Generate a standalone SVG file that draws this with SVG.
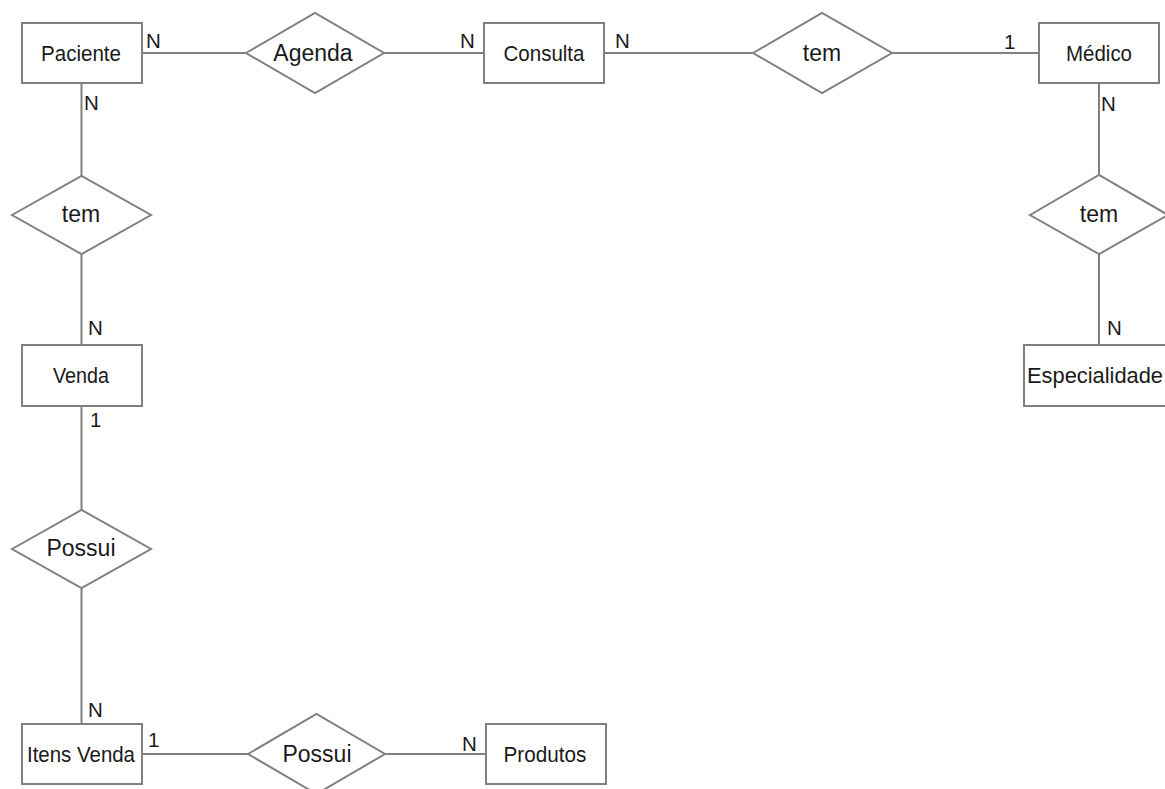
<svg xmlns="http://www.w3.org/2000/svg" width="1165" height="789" viewBox="0 0 1165 789">
<style>
.ent{fill:#fff;stroke:#808080;stroke-width:2}
.rel{fill:#fff;stroke:#808080;stroke-width:2}
.ln{stroke:#808080;stroke-width:2;fill:none}
.et{font-family:"Liberation Sans",Arial,sans-serif;font-size:22px;fill:#1a1a1a;text-anchor:middle;dominant-baseline:central}
.rt{font-family:"Liberation Sans",Arial,sans-serif;font-size:23px;fill:#1a1a1a;text-anchor:middle;dominant-baseline:central}
.card{font-family:"Liberation Sans",Arial,sans-serif;font-size:20.5px;fill:#1a1a1a}
</style>
<rect width="1165" height="789" fill="#fff"/>
<g id="connectors">
<line class="ln" x1="142" y1="53" x2="246" y2="53"/>
<line class="ln" x1="383" y1="53" x2="484" y2="53"/>
<line class="ln" x1="604" y1="53" x2="753" y2="53"/>
<line class="ln" x1="892" y1="53" x2="1039" y2="53"/>
<line class="ln" x1="1099" y1="83" x2="1099" y2="175"/>
<line class="ln" x1="1099" y1="254" x2="1099" y2="345"/>
<line class="ln" x1="81.5" y1="83" x2="81.5" y2="176"/>
<line class="ln" x1="81.5" y1="254" x2="81.5" y2="345"/>
<line class="ln" x1="81.5" y1="406" x2="81.5" y2="510"/>
<line class="ln" x1="81.5" y1="588" x2="81.5" y2="724"/>
<line class="ln" x1="142" y1="754" x2="248" y2="754"/>
<line class="ln" x1="385" y1="754" x2="486" y2="754"/>
</g>
<g id="paciente"><rect class="ent" x="22" y="23" width="120" height="60"/><text class="et" x="81" y="53" textLength="80" lengthAdjust="spacingAndGlyphs">Paciente</text></g>
<g id="agenda"><polygon class="rel" points="246,53 315,13 384,53 315,93"/><text class="rt" x="313" y="53">Agenda</text></g>
<g id="consulta"><rect class="ent" x="484" y="23" width="120" height="60"/><text class="et" x="544" y="53" textLength="81" lengthAdjust="spacingAndGlyphs">Consulta</text></g>
<g id="tem-consulta-medico"><polygon class="rel" points="753,53 822,13 892,53 822,93"/><text class="rt" x="822" y="53">tem</text></g>
<g id="medico"><rect class="ent" x="1039" y="23" width="120" height="60"/><text class="et" x="1099" y="53" textLength="66" lengthAdjust="spacingAndGlyphs">Médico</text></g>
<g id="tem-medico-especialidade"><polygon class="rel" points="1030,215 1099,175 1168,215 1099,254"/><text class="rt" x="1099" y="214">tem</text></g>
<g id="especialidade"><rect class="ent" x="1024" y="345" width="150" height="61"/><text class="et" x="1095" y="375" textLength="136" lengthAdjust="spacingAndGlyphs">Especialidade</text></g>
<g id="tem-paciente-venda"><polygon class="rel" points="12,215 81.5,176 151,215 81.5,254"/><text class="rt" x="81" y="214">tem</text></g>
<g id="venda"><rect class="ent" x="22" y="345" width="120" height="61"/><text class="et" x="81" y="375" textLength="56" lengthAdjust="spacingAndGlyphs">Venda</text></g>
<g id="possui-venda-itens"><polygon class="rel" points="12,549 81.5,510 151,549 81.5,588"/><text class="rt" x="81" y="548">Possui</text></g>
<g id="itens-venda"><rect class="ent" x="22" y="724" width="120" height="60"/><text class="et" x="81" y="754" textLength="108" lengthAdjust="spacingAndGlyphs">Itens Venda</text></g>
<g id="possui-itens-produtos"><polygon class="rel" points="248,754 316.5,714 385,754 316.5,794"/><text class="rt" x="317" y="754">Possui</text></g>
<g id="produtos"><rect class="ent" x="486" y="724" width="120" height="60"/><text class="et" x="545" y="754" textLength="83" lengthAdjust="spacingAndGlyphs">Produtos</text></g>
<g id="cardinalities">
<text class="card" x="146" y="48">N</text>
<text class="card" x="84" y="110">N</text>
<text class="card" x="460" y="48">N</text>
<text class="card" x="615" y="48">N</text>
<text class="card" x="1004" y="49">1</text>
<text class="card" x="1101" y="111">N</text>
<text class="card" x="1107" y="335">N</text>
<text class="card" x="88" y="335">N</text>
<text class="card" x="90" y="427">1</text>
<text class="card" x="88" y="717">N</text>
<text class="card" x="148" y="747">1</text>
<text class="card" x="462" y="751">N</text>
</g>
</svg>
